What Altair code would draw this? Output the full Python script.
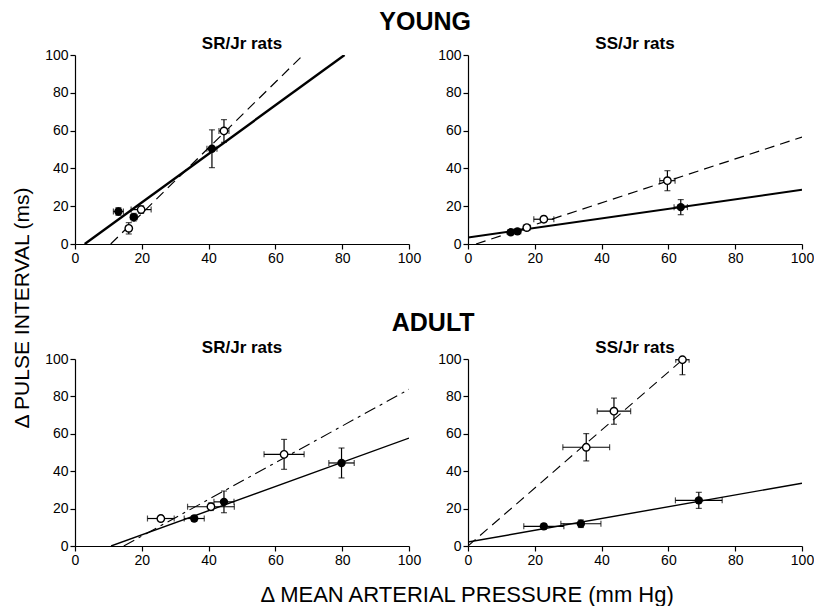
import altair as alt
import pandas as pd

FONT = "Liberation Sans"

# ---------------- data ----------------
# Young, SR/Jr rats
ysr_open_x = [16.1, 19.8, 44.6]
ysr_open_y = [8.3, 18.2, 59.8]
ysr_open_xerr = [0.8, 3.0, 1.5]
ysr_open_yerr = [3.0, 2.0, 6.0]
ysr_fill_x = [13.0, 17.6, 41.0]
ysr_fill_y = [17.2, 14.2, 50.4]
ysr_fill_xerr = [1.5, 1.0, 1.5]
ysr_fill_yerr = [2.0, 2.0, 10.0]
ysr_solid_x = [2.9, 80.7]
ysr_solid_y = [0, 100]
ysr_dash_x = [10.7, 68.3]
ysr_dash_y = [0, 100]

# Young, SS/Jr rats
yss_open_x = [17.6, 22.7, 59.7]
yss_open_y = [8.7, 13.1, 33.5]
yss_open_xerr = [1.0, 3.0, 2.3]
yss_open_yerr = [1.0, 1.5, 5.3]
yss_fill_x = [12.8, 14.8, 63.7]
yss_fill_y = [6.2, 6.7, 19.5]
yss_fill_xerr = [0.8, 1.0, 2.0]
yss_fill_yerr = [1.0, 1.0, 4.0]
yss_solid_x = [0, 100]
yss_solid_y = [3.4, 28.7]
yss_dash_x = [2.4, 100]
yss_dash_y = [0, 56.6]

# Adult, SR/Jr rats
asr_open_x = [25.7, 40.7, 62.6]
asr_open_y = [14.7, 21.0, 49.0]
asr_open_xerr = [4.0, 7.0, 6.0]
asr_open_yerr = [1.5, 2.0, 8.0]
asr_fill_x = [35.7, 44.6, 79.8]
asr_fill_y = [14.7, 23.6, 44.4]
asr_fill_xerr = [3.0, 3.0, 3.8]
asr_fill_yerr = [1.5, 5.8, 8.0]
asr_solid_x = [10.8, 100]
asr_solid_y = [0, 57.7]
asr_dash_x = [14.6, 100]
asr_dash_y = [0, 83.8]

# Adult, SS/Jr rats
ass_open_x = [35.4, 43.7, 64.2]
ass_open_y = [52.8, 72.1, 99.6]
ass_open_xerr = [7.0, 5.0, 2.0]
ass_open_yerr = [7.3, 7.0, 8.0]
ass_fill_x = [22.7, 33.8, 69.1]
ass_fill_y = [10.5, 11.9, 24.4]
ass_fill_xerr = [6.0, 6.0, 7.0]
ass_fill_yerr = [1.5, 2.0, 4.3]
ass_solid_x = [0, 100]
ass_solid_y = [2.1, 33.6]
ass_dash_x = [0, 64.5]
ass_dash_y = [0, 100]

tick_values = [0, 20, 40, 60, 80, 100]


def pts_frame(xs, ys, xe, ye):
    return pd.DataFrame({
        "x": xs, "y": ys,
        "xlo": [a - e for a, e in zip(xs, xe)], "xhi": [a + e for a, e in zip(xs, xe)],
        "ylo": [a - e for a, e in zip(ys, ye)], "yhi": [a + e for a, e in zip(ys, ye)],
    })


def panel(title, ox, oy, oxe, oye, fx, fy, fxe, fye, sx, sy, dx, dy,
          width, height, solid_w, dash_w, dash_pat):
    xs = alt.Scale(domain=[0, 100], nice=False, zero=False)
    ys = alt.Scale(domain=[0, 100], nice=False, zero=False)
    ax = dict(values=tick_values, title=None, grid=False, labelOverlap=False,
              labelFlush=False, tickCount=6)

    def X(f):
        return alt.X(f, scale=xs, axis=alt.Axis(**ax))

    def Y(f):
        return alt.Y(f, scale=ys, axis=alt.Axis(**ax))

    op = pts_frame(ox, oy, oxe, oye)
    fp = pts_frame(fx, fy, fxe, fye)
    allp = pd.concat([op, fp], ignore_index=True)

    solid = alt.Chart(pd.DataFrame({"x": sx, "y": sy})).mark_line(
        color="black", strokeWidth=solid_w, clip=True
    ).encode(x=X("x:Q"), y=Y("y:Q"))
    dash = alt.Chart(pd.DataFrame({"x": dx, "y": dy})).mark_line(
        color="black", strokeWidth=dash_w, strokeDash=dash_pat, clip=True
    ).encode(x=X("x:Q"), y=Y("y:Q"))

    herr = alt.Chart(allp).mark_errorbar(
        ticks={"size": 6}, color="black", thickness=1.2, clip=True
    ).encode(x=X("xlo:Q"), x2="xhi:Q", y=Y("y:Q"))
    verr = alt.Chart(allp).mark_errorbar(
        ticks={"size": 6}, color="black", thickness=1.2, clip=True
    ).encode(y=Y("ylo:Q"), y2="yhi:Q", x=X("x:Q"))

    fpts = alt.Chart(fp).mark_point(
        shape="circle", filled=True, color="black", size=70, opacity=1
    ).encode(x=X("x:Q"), y=Y("y:Q"))
    opts = alt.Chart(op).mark_point(
        shape="circle", fill="white", stroke="black", strokeWidth=1.4, size=55,
        opacity=1, fillOpacity=1
    ).encode(x=X("x:Q"), y=Y("y:Q"))

    return alt.layer(solid, dash, herr, verr, fpts, opts).properties(
        width=width, height=height,
        title=alt.TitleParams(title, font=FONT, fontSize=17, fontWeight="bold",
                              anchor="middle", offset=-5, color="black"),
    )


W = 334
tl = panel("SR/Jr rats", ysr_open_x, ysr_open_y, ysr_open_xerr, ysr_open_yerr,
           ysr_fill_x, ysr_fill_y, ysr_fill_xerr, ysr_fill_yerr,
           ysr_solid_x, ysr_solid_y, ysr_dash_x, ysr_dash_y, W, 189, 2.4, 1.2, [10, 6])
tr = panel("SS/Jr rats", yss_open_x, yss_open_y, yss_open_xerr, yss_open_yerr,
           yss_fill_x, yss_fill_y, yss_fill_xerr, yss_fill_yerr,
           yss_solid_x, yss_solid_y, yss_dash_x, yss_dash_y, W, 189, 2.0, 1.2, [10, 6])
bl = panel("SR/Jr rats", asr_open_x, asr_open_y, asr_open_xerr, asr_open_yerr,
           asr_fill_x, asr_fill_y, asr_fill_xerr, asr_fill_yerr,
           asr_solid_x, asr_solid_y, asr_dash_x, asr_dash_y, W, 187, 1.4, 1.1, [12, 5, 3, 5])
br = panel("SS/Jr rats", ass_open_x, ass_open_y, ass_open_xerr, ass_open_yerr,
           ass_fill_x, ass_fill_y, ass_fill_xerr, ass_fill_yerr,
           ass_solid_x, ass_solid_y, ass_dash_x, ass_dash_y, W, 187, 1.4, 1.1, [10, 6])

row_title = dict(font=FONT, fontSize=25, fontWeight="bold", anchor="middle", color="black")
young = alt.hconcat(tl, tr, spacing=16).properties(
    title=alt.TitleParams("YOUNG", dx=-4, offset=0, **row_title))
adult = alt.hconcat(bl, br, spacing=16).properties(
    title=alt.TitleParams("ADULT", dx=4, offset=3, **row_title))

grid = alt.vconcat(young, adult, spacing=46).properties(
    title=alt.TitleParams("Δ MEAN ARTERIAL PRESSURE (mm Hg)", orient="bottom", font=FONT,
                          fontSize=22, fontWeight="normal", anchor="middle", color="black",
                          offset=18, dx=38)
)

chart = alt.hconcat(grid).properties(
    title=alt.TitleParams("Δ PULSE INTERVAL (ms)", orient="left", font=FONT,
                          fontSize=21, fontWeight="normal", anchor="middle", color="black", offset=12),
    padding={"left": 3, "top": 2, "right": 0, "bottom": 0},
).configure_view(stroke=None).configure_axis(
    domainColor="black", tickColor="black", labelColor="black", labelFont=FONT,
    labelFontSize=14, tickSize=5, domainWidth=1.2, tickWidth=1.2, labelPadding=2, grid=False,
    labelOverlap=False, labelFlush=False
).configure_concat(spacing=10)

chart.save("out.html", embed_options={"renderer": "svg", "actions": False})
